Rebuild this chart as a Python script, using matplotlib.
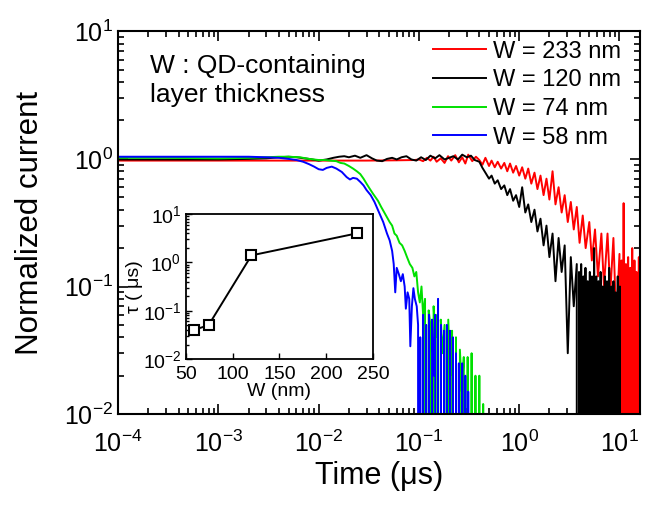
import matplotlib
matplotlib.use("Agg")
import matplotlib.pyplot as plt
from matplotlib.ticker import LogLocator, NullFormatter

plt.rcParams['font.family'] = ['Liberation Sans', 'DejaVu Sans']
plt.rcParams['mathtext.fontset'] = 'custom'
plt.rcParams['mathtext.rm'] = 'Liberation Sans'
plt.rcParams['mathtext.default'] = 'regular'
plt.rcParams['axes.unicode_minus'] = False

# ---- transient current data (time in us, normalized current) ----
# W = 233 nm
t_red = [1e-4, 3e-4, 1e-3, 3e-3, 1e-2, 3e-2, 0.06, 0.09,
         0.10, 0.11, 0.12, 0.13, 0.14, 0.15, 0.165, 0.18, 0.195, 0.21, 0.23, 0.25,
         0.27, 0.29, 0.31, 0.34, 0.37,
         0.40, 0.43, 0.46, 0.50, 0.53, 0.57, 0.61, 0.66, 0.71, 0.76, 0.81, 0.87,
         0.93, 1.0, 1.07, 1.15, 1.23, 1.32, 1.42, 1.52, 1.63, 1.75, 1.87, 2.0,
         2.15, 2.3, 2.47, 2.65, 2.84, 3.05, 3.27, 3.5, 3.75, 4.0, 4.3, 4.6, 5.0,
         5.3, 5.7, 6.1, 6.6, 7.0, 7.6, 8.1, 8.7, 9.3, 10.0,
         10.25, 10.5, 10.8, 11.0, 11.3, 11.6, 11.9, 12.2, 12.5, 12.8, 13.1, 13.4,
         13.8, 14.1, 14.5, 14.8, 15.2, 15.6, 16.0]
i_red = [0.97, 0.97, 0.97, 0.97, 0.97, 0.97, 0.975, 0.98,
         0.99, 0.96, 1.02, 0.97, 1.04, 0.95, 1.01, 0.93, 1.05, 0.97, 1.07, 0.94,
         1.03, 0.92, 1.08, 0.96, 1.04,
         0.98, 0.90, 1.02, 0.88, 0.97, 0.86, 0.95, 0.84, 0.93, 0.80, 0.92, 0.78,
         0.88, 0.74, 0.86, 0.70, 0.84, 0.64, 0.78, 0.58, 0.74, 0.52, 0.70, 0.48,
         0.80, 0.44, 0.60, 0.38, 0.52, 0.32, 0.46, 0.28, 0.42, 0.22, 0.36, 0.20, 0.32,
         0.16, 0.28, 0.12, 0.26, 0.10, 0.26, 0.09, 0.24, 0.05, 0.18,
         0.0, 0.16, 0.0, 0.45, 0.0, 0.15, 0.0, 0.17, 0.0, 0.14, 0.0, 0.20,
         0.0, 0.16, 0.0, 0.13, 0.0, 0.17, 0.0]

# W = 120 nm
t_black = [1e-4, 3e-4, 1e-3, 2e-3, 3e-3, 4e-3, 5e-3, 6e-3, 8e-3, 1e-2, 1.2e-2,
           1.4e-2, 1.6e-2, 1.8e-2, 2e-2, 2.3e-2, 2.6e-2, 3e-2, 3.4e-2, 3.8e-2,
           4.3e-2, 4.8e-2, 5.4e-2, 6e-2, 6.7e-2, 7.5e-2, 8.4e-2, 9.4e-2, 0.105,
           0.117, 0.13, 0.145, 0.16, 0.18, 0.2, 0.22, 0.245, 0.27, 0.3, 0.33, 0.36,
           0.40, 0.43, 0.46, 0.50, 0.53, 0.57, 0.61, 0.66, 0.71, 0.76, 0.81, 0.87,
           0.93, 1.0, 1.07, 1.15, 1.23, 1.32, 1.42, 1.52, 1.63, 1.75, 1.87, 2.0,
           2.15, 2.3, 2.47, 2.65, 2.84, 3.05, 3.27, 3.5, 3.75,
           3.85, 3.95, 4.05, 4.15, 4.25, 4.36, 4.47, 4.58, 4.7, 4.82, 4.94, 5.06,
           5.19, 5.32, 5.45, 5.59, 5.73, 5.87, 6.02, 6.17, 6.32, 6.48, 6.64, 6.81,
           6.98, 7.15, 7.33, 7.51, 7.7, 7.89, 8.09, 8.29, 8.5, 8.71, 8.93, 9.15,
           9.38, 9.61, 9.85, 10.1, 10.35, 10.6]
i_black = [0.99, 0.99, 0.99, 1.0, 1.01, 1.03, 1.04, 1.03, 1.0, 0.97, 0.99,
           1.02, 1.04, 1.05, 1.03, 1.06, 1.02, 1.07, 1.01, 0.97,
           0.96, 1.0, 1.02, 0.99, 1.03, 1.05, 0.99, 0.97, 1.03,
           0.98, 1.06, 1.01, 1.07, 0.99, 1.02, 1.05, 0.99, 1.08, 1.03, 1.06, 0.98,
           0.95, 0.85, 0.78, 0.70, 0.74, 0.64, 0.68, 0.58, 0.62, 0.52, 0.58, 0.47,
           0.52, 0.42, 0.60, 0.38, 0.44, 0.32, 0.40, 0.27, 0.34, 0.21, 0.30, 0.17,
           0.26, 0.11, 0.24, 0.13, 0.21, 0.03, 0.17, 0.07, 0.15,
           0.0, 0.13, 0.0, 0.15, 0.0, 0.12, 0.0, 0.14, 0.0, 0.11, 0.0, 0.13,
           0.0, 0.12, 0.0, 0.20, 0.0, 0.12, 0.0, 0.11, 0.0, 0.13, 0.0, 0.10,
           0.0, 0.12, 0.0, 0.11, 0.0, 0.14, 0.0, 0.10, 0.0, 0.11, 0.0, 0.09,
           0.0, 0.12, 0.0, 0.10, 0.0, 0.0]

# W = 74 nm
t_green = [1e-4, 3e-4, 1e-3, 2e-3, 3e-3, 4e-3, 5e-3, 6.5e-3, 8e-3, 1e-2, 1.15e-2,
           1.3e-2, 1.5e-2, 1.65e-2, 1.8e-2, 2.0e-2, 2.2e-2, 2.4e-2, 2.6e-2, 2.8e-2,
           3.0e-2, 3.2e-2, 3.5e-2, 3.9e-2, 4.2e-2, 4.6e-2, 5.1e-2, 5.4e-2, 5.7e-2,
           6.0e-2, 6.4e-2, 6.8e-2, 7.2e-2, 7.6e-2, 8.1e-2, 8.6e-2, 9.0e-2, 9.4e-2,
           9.8e-2,
           0.102, 0.106, 0.11, 0.115, 0.12, 0.125, 0.13, 0.135, 0.14, 0.146, 0.152,
           0.158, 0.165, 0.172, 0.18, 0.188, 0.196, 0.205, 0.214, 0.224, 0.234,
           0.245, 0.256, 0.268, 0.28, 0.293, 0.306, 0.32, 0.335, 0.35, 0.366,
           0.383, 0.4, 0.418, 0.437, 0.457, 0.478]
i_green = [1.02, 1.02, 1.01, 1.02, 1.03, 1.04, 1.04, 1.03, 1.0, 0.98, 0.98,
           0.97, 0.96, 0.93, 0.92, 0.88, 0.84, 0.80, 0.76, 0.70,
           0.64, 0.59, 0.53, 0.47, 0.42, 0.37, 0.32, 0.30, 0.26,
           0.25, 0.22, 0.21, 0.19, 0.17, 0.15, 0.14, 0.12, 0.13,
           0.09,
           0.075, 0.10, 0.06, 0.08, 0.0, 0.065, 0.05, 0.0, 0.07, 0.04, 0.06,
           0.0, 0.055, 0.03, 0.05, 0.0, 0.055, 0.02, 0.045, 0.0, 0.04,
           0.0, 0.032, 0.015, 0.028, 0.0, 0.028, 0.0, 0.03, 0.0, 0.02,
           0.0, 0.02, 0.0, 0.012, 0.0, 0.0]

# W = 58 nm
t_blue = [1e-4, 3e-4, 1e-3, 2e-3, 3e-3, 4e-3, 5e-3, 6e-3, 7e-3, 8e-3, 9e-3,
          1.0e-2, 1.1e-2, 1.2e-2, 1.35e-2, 1.5e-2, 1.7e-2, 1.9e-2, 2.05e-2, 2.2e-2,
          2.4e-2, 2.6e-2, 2.8e-2, 3.0e-2, 3.3e-2, 3.6e-2, 4.0e-2, 4.4e-2, 4.8e-2,
          5.1e-2, 5.4e-2, 5.6e-2, 5.8e-2, 6.0e-2, 6.3e-2, 6.6e-2, 6.9e-2, 7.2e-2,
          7.4e-2, 7.7e-2, 8.0e-2, 8.2e-2, 8.5e-2, 8.8e-2, 9.1e-2, 9.5e-2, 9.8e-2,
          0.100, 0.103, 0.107, 0.11, 0.114, 0.118, 0.122, 0.126, 0.13, 0.135, 0.14,
          0.145, 0.15, 0.155, 0.16, 0.166, 0.172, 0.178, 0.184, 0.19, 0.197, 0.204,
          0.211, 0.218, 0.226, 0.234, 0.242, 0.25, 0.26, 0.27, 0.28, 0.29, 0.30,
          0.31, 0.32, 0.33]
i_blue = [1.04, 1.04, 1.04, 1.04, 1.03, 1.02, 1.0, 0.98, 0.95, 0.91, 0.87,
          0.83, 0.82, 0.85, 0.87, 0.84, 0.79, 0.72, 0.69, 0.71,
          0.70, 0.66, 0.62, 0.57, 0.52, 0.46, 0.38, 0.32, 0.26,
          0.23, 0.19, 0.15, 0.09, 0.14, 0.125, 0.11, 0.125, 0.10,
          0.067, 0.09, 0.08, 0.034, 0.07, 0.097, 0.08, 0.07, 0.05,
          0.0, 0.04, 0.0, 0.06, 0.0, 0.05, 0.0, 0.06, 0.0, 0.055, 0.02,
          0.06, 0.0, 0.08, 0.0, 0.05, 0.0, 0.045, 0.0, 0.05, 0.0, 0.045,
          0.0, 0.04, 0.0, 0.03, 0.0, 0.025, 0.0, 0.025, 0.0, 0.02, 0.0,
          0.015, 0.0, 0.0]

series = [
    (t_red, i_red, "#ff0000", "W = 233 nm"),
    (t_black, i_black, "#000000", "W = 120 nm"),
    (t_green, i_green, "#00e000", "W = 74 nm"),
    (t_blue, i_blue, "#0000ff", "W = 58 nm"),
]

# ---- inset data: decay time vs thickness ----
w_nm = [58, 74, 120, 233]
tau_us = [0.04, 0.05, 1.4, 4.0]

fig = plt.figure(figsize=(6.53, 5.05), dpi=100)
ax = fig.add_axes([0.181, 0.180, 0.799, 0.758])

for t, cur, col, lab in series:
    ax.plot(t, cur, color=col, lw=1.4, label=lab)

ax.set_xscale('log', nonpositive='clip')
ax.set_yscale('log', nonpositive='clip')
ax.set_xlim(1e-4, 16)
ax.set_ylim(1e-2, 10)
ax.xaxis.set_minor_locator(LogLocator(base=10, subs=range(2, 10), numticks=20))
ax.yaxis.set_minor_locator(LogLocator(base=10, subs=range(2, 10), numticks=20))
ax.xaxis.set_minor_formatter(NullFormatter())
ax.yaxis.set_minor_formatter(NullFormatter())
ax.tick_params(which='both', direction='in', top=True, right=True, width=1.2,
               labelsize=18)
ax.tick_params(which='major', length=7)
ax.tick_params(which='minor', length=4)
ax.tick_params(axis='x', pad=12)
for sp in ax.spines.values():
    sp.set_linewidth(1.5)

ax.set_xlabel("Time (μs)", fontsize=22, labelpad=3)
ax.set_ylabel("Normalized current", fontsize=22.5, labelpad=14)

ax.legend(loc='upper right', bbox_to_anchor=(0.9816, 1.0), frameon=False,
          fontsize=17, handlelength=2.25, handletextpad=0.3, labelspacing=0.28,
          borderaxespad=0.0)
ax.text(0.061, 0.94, "W : QD-containing\nlayer thickness", transform=ax.transAxes,
        fontsize=19, va='top', linespacing=1.26)

# inset
axin = fig.add_axes([0.285, 0.289, 0.286, 0.287])
axin.plot(w_nm, tau_us, color='black', lw=1.4, marker='s', ms=7,
          mfc='white', mec='black', mew=1.5)
axin.set_yscale('log')
axin.set_xlim(50, 250)
axin.set_ylim(1e-2, 10)
axin.set_xticks([50, 100, 150, 200, 250])
axin.yaxis.set_minor_locator(LogLocator(base=10, subs=range(2, 10), numticks=20))
axin.yaxis.set_minor_formatter(NullFormatter())
axin.tick_params(which='both', direction='in', labelsize=14, width=1)
axin.tick_params(which='major', length=4)
axin.tick_params(which='minor', length=2)
axin.tick_params(axis='x', pad=5)
for sp in axin.spines.values():
    sp.set_linewidth(1.3)
axin.set_xlabel("W (nm)", fontsize=14, labelpad=0)
axin.set_ylabel("τ ( μs)", fontsize=14, labelpad=0)

fig.savefig("out.png", dpi=100)
